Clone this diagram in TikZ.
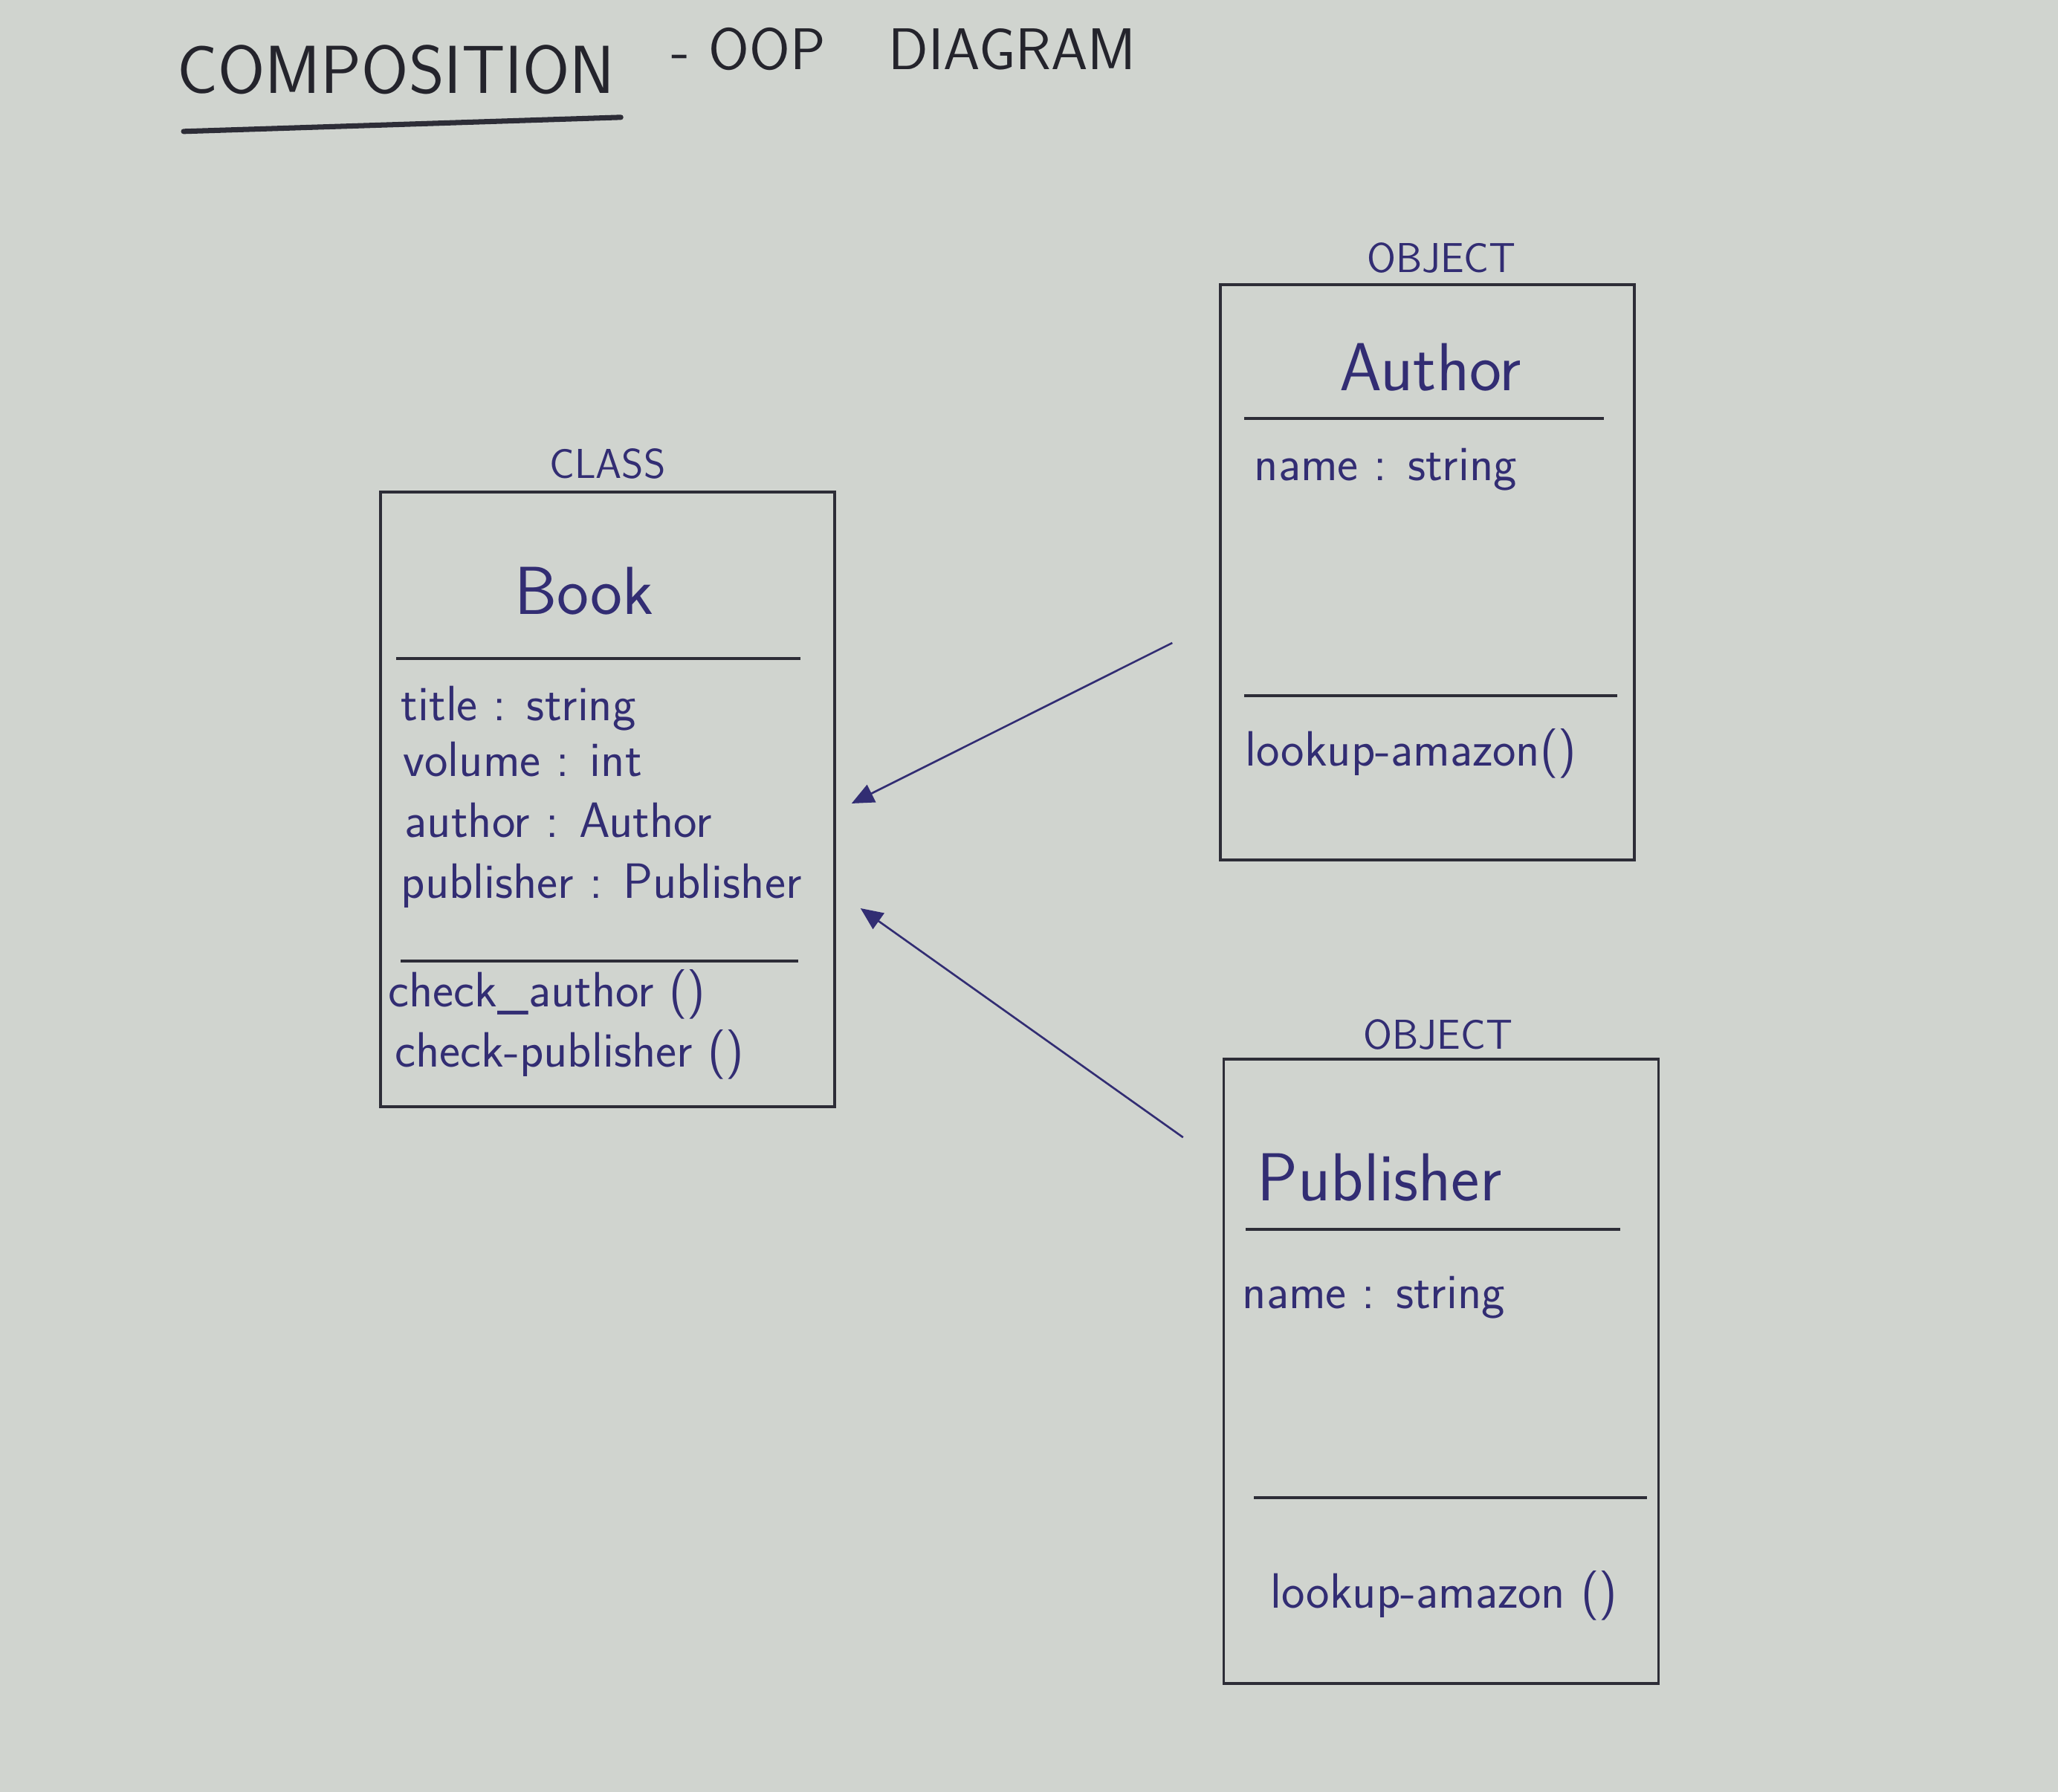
\documentclass[tikz,border=0pt]{standalone}
\usepackage{fontspec}
\usetikzlibrary{positioning,arrows.meta}

\definecolor{paper}{RGB}{208,212,207}
\definecolor{ink}{RGB}{50,45,115}
\definecolor{pencil}{RGB}{45,45,55}

\begin{document}
\begin{tikzpicture}[every node/.append style={font=\sffamily, inner sep=0pt},
    heading/.style={font=\sffamily\fontsize{26}{29}\selectfont, text=pencil!80!black},
    umlbox/.style={draw=pencil, line width=1pt},
    divider/.style={draw=pencil, line width=.9pt},
    kind/.style={font=\sffamily\fontsize{16}{18}\selectfont, text=ink},
    classname/.style={font=\sffamily\fontsize{26}{30}\selectfont, text=ink},
    member/.style={font=\sffamily\fontsize{19}{22}\selectfont, text=ink,
                   anchor=west, text height=1ex, text depth=0pt},
    composes/.style={draw=ink, line width=.75pt, -{Triangle[length=.3cm,width=.26cm]}}]
  \fill[paper] (0,0) rectangle (27.69,24.11);
  \useasboundingbox (0,0) rectangle (27.69,24.11);

  % heading
  \node[heading, anchor=west] (heading) at (2.38,23.17) {COMPOSITION};
  \node[heading, font=\sffamily\fontsize{22.5}{26}\selectfont, right=.75cm of heading, yshift=.28cm]
    (subheading) {- OOP\hspace{.85cm}DIAGRAM};
  \draw[pencil, line width=2pt, line cap=round]
    ([shift={(.09,-.49)}]heading.south west) -- ([shift={(.07,-.3)}]heading.south east);

  % boxes
  \node[umlbox, minimum width=6.11cm, minimum height=8.27cm] (book) at (8.175,13.355) {};
  \node[umlbox, minimum width=5.57cm, minimum height=7.74cm] (author) at (19.205,16.41) {};
  \node[umlbox, minimum width=5.85cm, minimum height=8.40cm] (publisher) at (19.39,5.66) {};

  \node[kind, above=.15cm of book] (book-kind) {CLASS};
  \node[kind, above=.13cm of author, xshift=.19cm] (author-kind) {OBJECT};
  \node[kind, above=.1cm of publisher, xshift=-.04cm] (publisher-kind) {OBJECT};

  \node[classname] (book-name) at (7.86,16.16) {Book};
  \node[classname] (author-name) at (19.25,19.17) {Author};
  \node[classname, anchor=west] (publisher-name) at (16.91,8.27) {Publisher};

  \draw[divider] (5.33,15.25) -- (10.77,15.25);
  \draw[divider] (5.39,11.18) -- (10.74,11.18);
  \draw[divider] (16.74,18.48) -- (21.58,18.48);
  \draw[divider] (16.74,14.75) -- (21.76,14.75);
  \draw[divider] (16.76,7.57) -- (21.80,7.57);
  \draw[divider] (16.87,3.96) -- (22.16,3.96);

  % members
  \node[member] (book-title) at (5.39,14.49) {title : string};
  \node[member] (book-volume) at (5.42,13.74) {volume : int};
  \node[member] (book-author) at (5.44,12.92) {author : Author};
  \node[member] (book-publisher) at (5.39,12.10) {publisher : Publisher};
  \node[member] (book-check-author) at (5.22,10.64) {check\_author ()};
  \node[member] (book-check-publisher) at (5.31,9.83) {check-publisher ()};

  \node[member] (author-field) at (16.87,17.72) {name : string};
  \node[member] (author-lookup) at (16.75,13.88) {lookup-amazon()};

  \node[member] (publisher-field) at (16.71,6.58) {name : string};
  \node[member] (publisher-lookup) at (17.09,2.55) {lookup-amazon ()};

  % composition
  \draw[composes] ([shift={(-.63,-.95)}]author.west) -- ([shift={(.21,-.055)}]book.east);
  \draw[composes] ([shift={(-.53,-1.07)}]publisher.north west) -- ([shift={(.33,-1.465)}]book.east);
\end{tikzpicture}
\end{document}
